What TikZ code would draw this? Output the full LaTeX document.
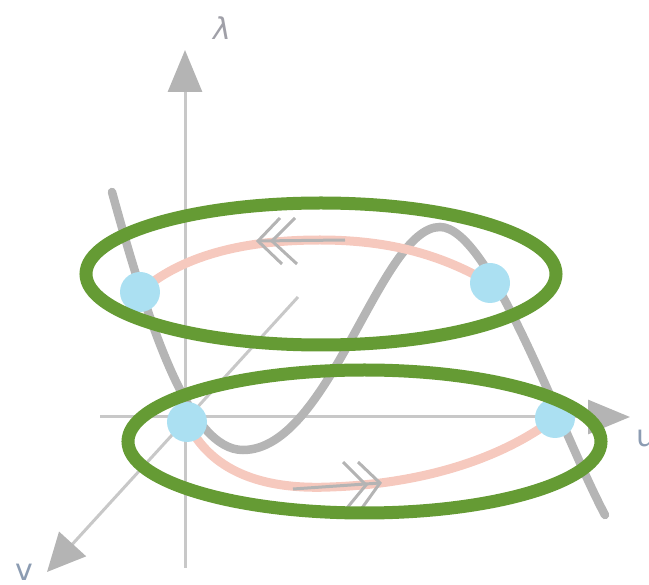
\documentclass[tikz,border=0pt]{standalone}
\usepackage{fontspec}
\setmainfont{DejaVu Sans}
\usetikzlibrary{arrows.meta}
\definecolor{axisgray}{HTML}{C8C8C8}
\definecolor{headgray}{HTML}{B4B4B4}
\definecolor{curvegray}{HTML}{B5B5B5}
\definecolor{pinkc}{HTML}{F6C9BE}
\definecolor{bluedot}{HTML}{ABE0F2}
\definecolor{greenc}{HTML}{659B34}
\definecolor{lblgray}{HTML}{A0A0A8}
\definecolor{lblblue}{HTML}{8C9CB2}
\tikzset{
  axisline/.style={draw=axisgray, line width=3pt},
  axishead/.style={-{Triangle[length=42pt,width=34pt,fill=headgray,color=headgray]}},
  graycurve/.style={draw=curvegray, line width=8.5pt, line cap=round},
  pinkcurve/.style={draw=pinkc, line width=9pt},
  chevron/.style={draw=headgray, line width=3pt},
  dotc/.style={fill=bluedot},
  ring/.style={draw=greenc, line width=13pt},
  lbl/.style={font=\fontsize{30}{30}\selectfont, inner sep=0pt}
}
\begin{document}
\begin{tikzpicture}[x=1pt,y=-1pt]
\useasboundingbox (0,0) rectangle (649,585);
% axis coordinates
\coordinate (lb) at (185,568);
\coordinate (lt) at (185,50);
\coordinate (ul) at (100,417);
\coordinate (ur) at (630,417);
\coordinate (vt) at (298,297);
\coordinate (vb) at (47,572);
% axes
\draw[axisline, axishead] (lb) -- (lt);
\draw[axisline, axishead] (ul) -- (ur);
\draw[axisline, -{Triangle[length=38pt,width=36pt,fill=headgray,color=headgray]}] (vt) -- (vb);
% labels
\node[lbl, text=lblgray] (lam) at (222,28) {\itshape λ};
\node[lbl, text=lblblue, anchor=west] (ulab) at (636,438) {u};
\node[lbl, text=lblblue] (vlab) at (24,572) {v};
% gray S-curve
\coordinate (s0) at (112,192);
\coordinate (s1) at (243,450);
\coordinate (s2) at (440,227);
\coordinate (s3) at (605,515);
\draw[graycurve] (s0) .. controls (150,330) and (190,450) .. (s1)
  .. controls (330,450) and (380,227) .. (s2)
  .. controls (490,227) and (560,430) .. (s3);
% dots coordinates
\coordinate (d1) at (140,292);
\coordinate (d2) at (490,283);
\coordinate (d3) at (187,422);
\coordinate (d4) at (555,418);
% pink arcs
\coordinate (pu) at (320,240);
\coordinate (pl) at (330,487);
\draw[pinkcurve] (d1) .. controls (180,257) and (240,240) .. (pu)
  .. controls (400,240) and (450,260) .. (d2);
\draw[pinkcurve] (d3) .. controls (210,470) and (260,490) .. (pl)
  .. controls (420,484) and (500,460) .. (d4);
% chevron arrows
\coordinate (a1s) at (345,240);
\coordinate (a1t) at (258,241);
\draw[chevron] (a1s) -- (a1t);
\draw[chevron] (280,218) -- (a1t) -- (282,264);
\draw[chevron] (295,218) -- (272,241) -- (297,264);
\coordinate (a2s) at (293,489);
\coordinate (a2t) at (380,483);
\draw[chevron] (a2s) -- (a2t);
\draw[chevron] (343,462) -- (366,485) -- (347,508);
\draw[chevron] (358,462) -- (a2t) -- (362,508);
% blue dots
\foreach \d in {d1,d2,d3,d4} \fill[dotc] (\d) circle (20);
% green ellipses
\draw[ring] (321,274) ellipse (235 and 71);
\draw[ring] (364.5,441.5) ellipse (236.5 and 71.5);
\end{tikzpicture}
\end{document}
